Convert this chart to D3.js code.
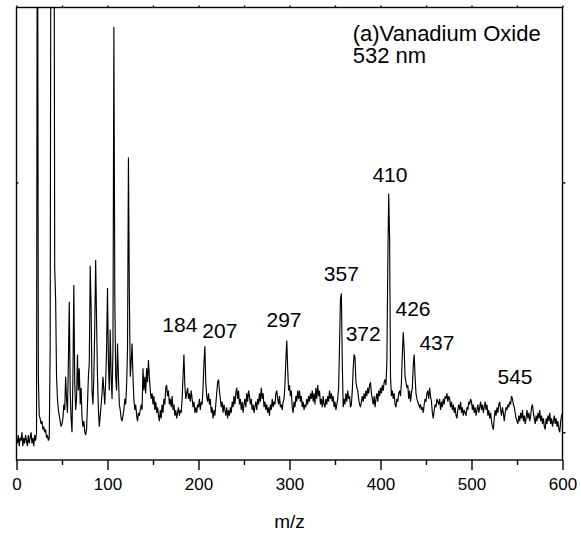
<!DOCTYPE html>
<html>
<head>
<meta charset="utf-8">
<script src="https://cdn.jsdelivr.net/npm/d3@7"></script>
<style>
	body { margin: 0; background: #fff; }
	svg { display: block; font-family: "Liberation Sans", Arial, sans-serif; }
	.trace { fill: none; stroke: #000; stroke-width: 1.15; }
	.frame { fill: none; stroke: #000; stroke-width: 1.4; }
	.axis path, .axis line { stroke: #000; stroke-width: 1.4; }
	.axis text { font-size: 17px; fill: #000; }
	.peak { font-size: 21px; fill: #000; }
	.title { font-size: 22px; fill: #000; }
</style>
</head>
<body>
<svg id="chart" width="581" height="535"></svg>
<script>

// m/z axis
var mzStart = 0;
var xTicks = [0, 100, 200, 300, 400, 500, 600];
var xMinorTicks = [50, 150, 250, 350, 450, 550];

// intensity (arb. units), one value per m/z from 0 to 600
var intensity = [
	8, 6, 9, 5, 8, 7, 10, 5, 8, 6, 9, 7, 5, 9, 6, 8, 10, 6, 8, 5,
	9, 7, 10, 250, 30, 16, 15, 13, 14, 11, 12, 10, 11, 8, 9, 7, 8, 40, 250, 250,
	250, 250, 69, 58, 30, 22, 18, 16, 14, 12, 13, 15, 20, 18, 30, 22, 17, 35, 57, 25,
	15, 10, 30, 63, 28, 18, 22, 38, 25, 33, 20, 26, 15, 12, 14, 10, 9, 11, 20, 30,
	35, 70, 55, 25, 20, 30, 48, 72, 50, 30, 18, 12, 16, 20, 24, 30, 25, 20, 28, 40,
	62, 35, 25, 47, 30, 22, 40, 156, 60, 30, 25, 42, 30, 20, 18, 15, 14, 16, 18, 22,
	20, 27, 40, 109, 60, 30, 35, 42, 30, 22, 18, 20, 16, 14, 17, 16, 18, 20, 18, 33,
	25, 30, 24, 33, 28, 36, 30, 25, 22, 24, 20, 23, 18, 21, 17, 19, 16, 14, 18, 15,
	20, 17, 22, 20, 26, 27, 23, 25, 20, 22, 19, 23, 18, 20, 16, 18, 15, 17, 19, 16,
	18, 17, 22, 30, 38, 27, 22, 24, 26, 22, 24, 21, 25, 22, 19, 21, 17, 19, 17, 20,
	19, 22, 18, 21, 20, 26, 35, 41, 28, 23, 21, 24, 20, 22, 17, 19, 15, 18, 16, 20,
	24, 28, 29, 25, 22, 19, 21, 17, 20, 18, 16, 19, 15, 18, 16, 19, 17, 21, 19, 23,
	20, 24, 26, 22, 25, 20, 22, 18, 21, 17, 20, 22, 19, 24, 21, 25, 23, 20, 22, 18,
	20, 17, 19, 21, 18, 22, 20, 24, 21, 26, 22, 24, 19, 21, 18, 20, 17, 19, 16, 20,
	18, 22, 19, 21, 20, 24, 25, 22, 20, 23, 19, 20, 18, 21, 22, 27, 36, 43, 33, 25,
	27, 23, 25, 19, 17, 21, 19, 23, 21, 25, 22, 25, 21, 23, 19, 21, 18, 20, 19, 22,
	20, 23, 21, 24, 22, 25, 21, 24, 20, 26, 22, 27, 23, 25, 20, 22, 19, 23, 20, 19,
	22, 20, 23, 21, 25, 22, 24, 21, 23, 19, 21, 18, 20, 22, 26, 42, 58, 60, 35, 19,
	22, 20, 24, 21, 25, 22, 23, 19, 20, 25, 33, 38, 37, 28, 26, 25, 22, 20, 19, 21,
	23, 21, 24, 22, 25, 23, 26, 24, 27, 28, 24, 22, 20, 23, 19, 22, 24, 21, 25, 23,
	26, 24, 27, 25, 28, 29, 27, 35, 70, 96, 80, 30, 23, 25, 22, 24, 20, 19, 22, 21,
	24, 25, 23, 28, 38, 46, 40, 30, 28, 26, 27, 22, 25, 21, 24, 26, 34, 38, 30, 24,
	22, 21, 20, 19, 20, 18, 19, 17, 20, 22, 21, 24, 25, 22, 26, 23, 21, 17, 15, 18,
	20, 19, 22, 21, 20, 22, 18, 21, 19, 22, 20, 23, 22, 24, 21, 23, 22, 19, 21, 18,
	20, 17, 19, 16, 15, 18, 20, 18, 21, 17, 19, 16, 18, 17, 16, 19, 18, 21, 20, 22,
	21, 18, 20, 17, 19, 16, 18, 20, 17, 19, 21, 18, 20, 17, 19, 21, 18, 20, 16, 18,
	15, 17, 14, 12, 11, 15, 18, 16, 19, 17, 20, 21, 18, 16, 19, 17, 14, 17, 19, 18,
	20, 19, 21, 20, 23, 22, 20, 19, 17, 15, 14, 13, 16, 14, 17, 15, 18, 14, 16, 13,
	15, 18, 15, 17, 14, 16, 19, 20, 17, 15, 13, 16, 14, 17, 15, 18, 14, 16, 13, 15,
	12, 11, 15, 13, 16, 14, 17, 13, 15, 12, 14, 16, 13, 15, 12, 14, 11, 10, 14, 16,
	17
];

// labelled peaks
var peakLabels = [184, 207, 297, 357, 372, 410, 426, 437, 545];

var titleLines = ["(a)Vanadium Oxide", "532 nm"];

var width = 581;
var height = 535;
var margin = {top: 7.5, right: 18.5, bottom: 75, left: 16.5};
var plotW = width - margin.left - margin.right;
var plotH = height - margin.top - margin.bottom;

// where each peak label sits, in data units (centre m/z, baseline intensity)
var labelAnchor = {
	184: [179.5, 46], 207: [223.5, 44], 297: [294, 48], 357: [357, 64.4],
	372: [381, 42.7], 410: [410.4, 100.3], 426: [435.7, 51.8], 437: [462, 39.6],
	545: [547.8, 27.4]
};

var svg = d3.select("#chart");

var x = d3.scaleLinear()
	.domain([0, 600])
	.range([0, plotW]);

var y = d3.scaleLinear()
	.domain([0, 163])
	.range([plotH, 0]);

var g = svg.append("g")
	.attr("transform", "translate(" + margin.left + "," + margin.top + ")");

g.append("clipPath")
	.attr("id", "clip")
	.append("rect")
	.attr("width", plotW)
	.attr("height", plotH);

var line = d3.line()
	.x(function(d, i){ return x(mzStart + i); })
	.y(function(d){ return y(d); });

g.append("path")
	.datum(intensity)
	.attr("class", "trace")
	.attr("clip-path", "url(#clip)")
	.attr("d", line);

// bottom axis, major + minor ticks
var xAxis = g.append("g")
	.attr("class", "axis")
	.attr("transform", "translate(0," + plotH + ")")
	.call(d3.axisBottom(x).tickValues(xTicks).tickSize(10).tickPadding(4).tickFormat(d3.format("d")));
xAxis.select(".domain").remove();

g.append("g")
	.attr("class", "axis")
	.attr("transform", "translate(0," + plotH + ")")
	.call(d3.axisBottom(x).tickValues(xMinorTicks).tickSize(5).tickFormat(""))
	.select(".domain").remove();

// tiny ticks on top and sides
g.append("g")
	.attr("class", "axis")
	.call(d3.axisTop(x).tickValues(xMinorTicks.concat(xTicks)).tickSize(2).tickFormat(""))
	.select(".domain").remove();

g.append("g")
	.attr("class", "axis")
	.call(d3.axisRight(y).tickValues([100]).tickSize(2).tickFormat(""))
	.select(".domain").remove();

g.append("g")
	.attr("class", "axis")
	.attr("transform", "translate(" + plotW + ",0)")
	.call(d3.axisRight(y).tickValues([100, 10]).tickSize(3).tickFormat(""))
	.select(".domain").remove();

g.selectAll(".axis text")
	.attr("dy", null)
	.attr("y", 30);

g.append("rect")
	.attr("class", "frame")
	.attr("width", plotW)
	.attr("height", plotH);

// peak labels
g.selectAll(".peak")
	.data(peakLabels)
	.enter()
	.append("text")
	.attr("class", "peak")
	.attr("text-anchor", "middle")
	.attr("x", function(d){ return x(labelAnchor[d][0]); })
	.attr("y", function(d){ return y(labelAnchor[d][1]); })
	.text(function(d){ return d; });

g.selectAll(".title")
	.data(titleLines)
	.enter()
	.append("text")
	.attr("class", "title")
	.attr("x", x(369.5))
	.attr("y", function(d, i){ return 33 + i * 22.5; })
	.text(function(d){ return d; });

svg.append("text")
	.attr("x", margin.left + plotW / 2)
	.attr("y", 528)
	.attr("text-anchor", "middle")
	.style("font-size", "19px")
	.text("m/z");

</script>
</body>
</html>
